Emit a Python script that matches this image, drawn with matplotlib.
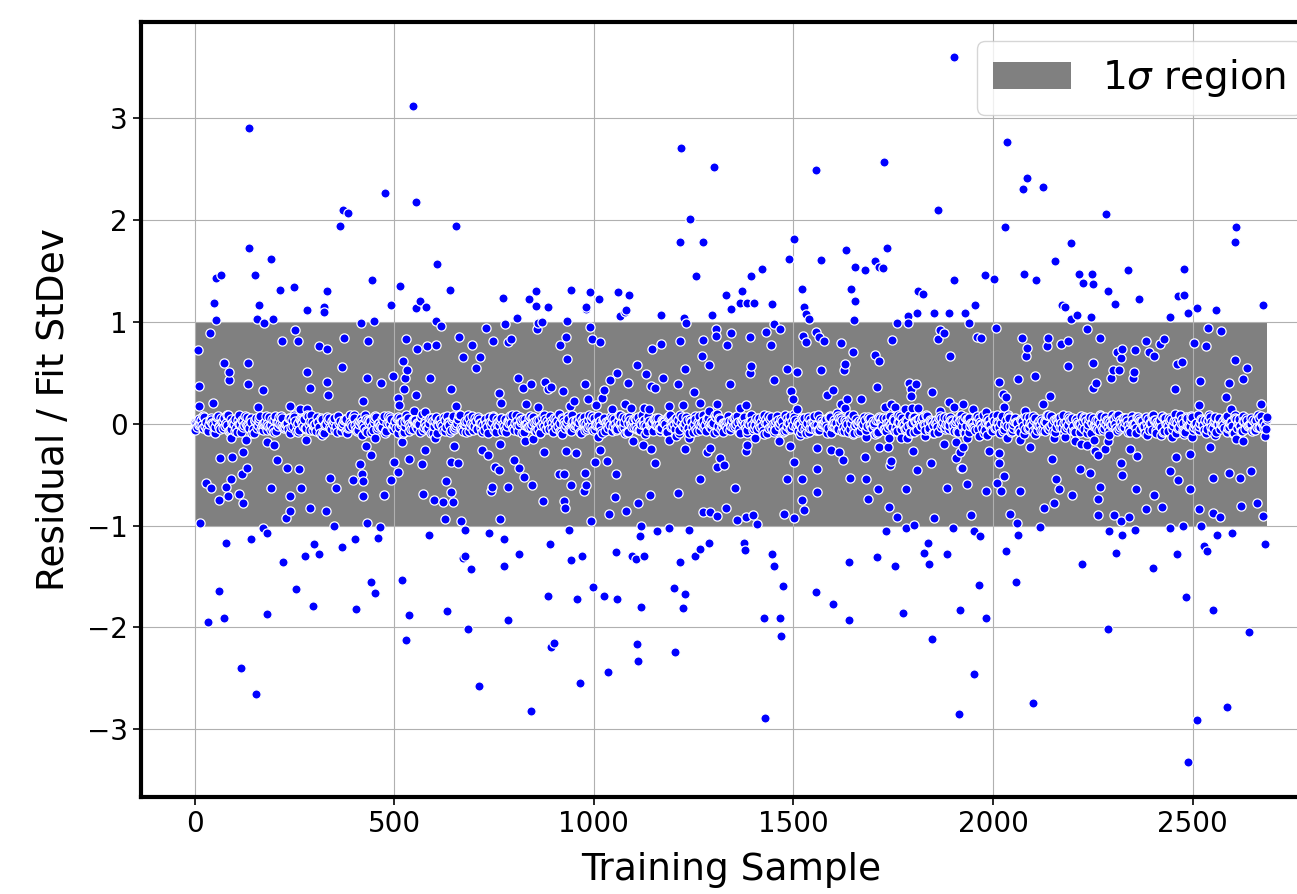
import numpy as np
import matplotlib
matplotlib.use("Agg")
import matplotlib.pyplot as plt

N_SAMPLES = 2688

# points above the 1-sigma band
above_x = [547, 137, 477, 555, 371, 385, 365, 137, 191, 54,
           67, 150, 445, 214, 248, 332, 514, 49, 162, 324,
           493, 565, 555, 580, 282, 53, 155, 197, 324, 449,
           1219, 1302, 1242, 1216, 1273, 655, 607, 639, 1257, 772,
           838, 854, 854, 886, 944, 991, 1013, 981, 1060, 1089,
           1080, 980, 1079, 1065, 1167, 1225, 1296, 605, 807, 933,
           1901, 2035, 1556, 1726, 1863, 2031, 1502, 1489, 1568, 1632,
           1734, 1704, 1714, 1724, 1653, 1678, 1422, 1394, 1521, 1645,
           1654, 1330, 1371, 1365, 1384, 1400, 1344, 1445, 1527, 1812,
           1825, 1901, 1981, 2003, 1955, 1532, 1540, 1651, 1788, 1810,
           1851, 1889, 1930, 2086, 2076, 2126, 2282, 2194, 2609, 2605,
           2155, 2078, 2108, 2215, 2247, 2225, 2251, 2339, 2288, 2305,
           2366, 2478, 2463, 2478, 2173, 2181, 2511, 2559, 2675, 2194,
           2209, 2246, 2444, 2488]
above_y = [3.12, 2.90, 2.27, 2.18, 2.10, 2.07, 1.94, 1.73, 1.62, 1.43,
           1.46, 1.46, 1.41, 1.31, 1.34, 1.30, 1.35, 1.19, 1.17, 1.15,
           1.17, 1.21, 1.14, 1.15, 1.12, 1.02, 1.03, 1.03, 1.10, 1.01,
           2.71, 2.52, 2.01, 1.79, 1.79, 1.94, 1.57, 1.31, 1.45, 1.24,
           1.23, 1.30, 1.16, 1.15, 1.31, 1.29, 1.23, 1.15, 1.29, 1.26,
           1.12, 1.13, 1.10, 1.06, 1.07, 1.04, 1.07, 1.01, 1.04, 1.01,
           3.60, 2.77, 2.49, 2.57, 2.10, 1.93, 1.81, 1.62, 1.61, 1.71,
           1.73, 1.60, 1.54, 1.53, 1.54, 1.51, 1.52, 1.45, 1.32, 1.32,
           1.21, 1.26, 1.30, 1.19, 1.19, 1.19, 1.13, 1.18, 1.15, 1.30,
           1.27, 1.41, 1.46, 1.42, 1.17, 1.08, 1.03, 1.02, 1.06, 1.09,
           1.09, 1.09, 1.09, 2.41, 2.31, 2.33, 2.06, 1.78, 1.93, 1.79,
           1.60, 1.47, 1.41, 1.47, 1.47, 1.38, 1.37, 1.51, 1.30, 1.18,
           1.23, 1.52, 1.25, 1.26, 1.17, 1.15, 1.14, 1.12, 1.17, 1.03,
           1.07, 1.05, 1.05, 1.09]

# points inside the band, positive side
pos_x = [175, 416, 39, 251, 220, 258, 311, 332, 375, 435,
         8, 530, 557, 582, 74, 134, 87, 86, 281, 368,
         332, 290, 334, 10, 134, 172, 521, 533, 528, 496,
         524, 555, 432, 466, 45, 10, 159, 239, 263, 282,
         423, 509, 512, 549, 578,
         1232, 616, 661, 731, 747, 777, 792, 784, 859, 871,
         858, 929, 915, 933, 991, 996, 1016, 605, 671, 716,
         706, 696, 1145, 1169, 1216, 1273, 1307, 1307, 1271, 1288,
         1228, 1210, 1251, 1109, 1131, 1172, 1142, 1153, 1086, 1058,
         1040, 1025, 1020, 810, 823, 843, 877, 884, 893, 922,
         977, 986, 642, 762, 768, 829, 860, 950, 941, 655,
         1006, 1045, 1079, 1094, 1125, 1137, 1188, 1223, 1265, 1288,
         1309, 1309, 590,
         1759, 1788, 1939, 2007, 1344, 1334, 1390, 1444, 1432, 1467,
         1451, 1523, 1531, 1557, 1565, 1577, 1619, 1649, 1703, 1715,
         1746, 1861, 1868, 1877, 1891, 1960, 1970, 1394, 1390, 1341,
         1451, 1484, 1510, 1568, 1628, 1626, 1708, 1790, 1807, 1795,
         1795, 1847, 2015, 1495, 1498, 1508, 1600, 1583, 1634, 1668,
         1619, 1381, 1367, 1609, 1628, 1729, 1744, 1754, 1779, 1796,
         1813, 1866, 1890, 1903, 1924, 1949, 1982, 2033, 2028, 2025,
         2235, 2539, 2570, 2504, 2533, 2072, 2086, 2082, 2063, 2104,
         2138, 2135, 2170, 2187, 2187, 2250, 2268, 2250, 2258, 2296,
         2301, 2315, 2311, 2322, 2321, 2355, 2352, 2350, 2383, 2390,
         2404, 2417, 2428, 2461, 2474, 2455, 2519, 2517, 2590, 2584,
         2605, 2625, 2637, 2670, 2597, 2142, 2124, 2081]
pos_y = [0.99, 0.99, 0.89, 0.92, 0.81, 0.81, 0.76, 0.73, 0.84, 0.81,
         0.72, 0.83, 0.73, 0.76, 0.60, 0.60, 0.51, 0.43, 0.51, 0.56,
         0.41, 0.35, 0.28, 0.37, 0.39, 0.33, 0.62, 0.53, 0.45, 0.47,
         0.34, 0.28, 0.45, 0.40, 0.20, 0.17, 0.16, 0.17, 0.14, 0.14,
         0.22, 0.25, 0.18, 0.13, 0.12,
         0.99, 0.96, 0.85, 0.94, 0.81, 0.98, 0.83, 0.80, 0.99, 1.00,
         0.93, 0.85, 0.77, 0.64, 0.95, 0.83, 0.80, 0.77, 0.66, 0.66,
         0.55, 0.77, 0.73, 0.78, 0.81, 0.82, 0.93, 0.86, 0.67, 0.58,
         0.54, 0.39, 0.31, 0.58, 0.49, 0.45, 0.37, 0.35, 0.40, 0.50,
         0.43, 0.33, 0.25, 0.45, 0.35, 0.39, 0.41, 0.34, 0.36, 0.32,
         0.39, 0.24, 0.34, 0.30, 0.20, 0.19, 0.16, 0.22, 0.17, 0.17,
         0.18, 0.14, 0.19, 0.15, 0.15, 0.14, 0.17, 0.18, 0.20, 0.13,
         0.19, 0.10, 0.45,
         0.99, 0.99, 0.99, 0.94, 0.89, 0.77, 0.85, 0.77, 0.90, 0.93,
         0.98, 0.86, 0.80, 0.90, 0.85, 0.81, 0.79, 0.70, 0.68, 0.62,
         0.82, 0.83, 0.92, 0.89, 0.67, 0.85, 0.84, 0.57, 0.50, 0.39,
         0.43, 0.54, 0.51, 0.53, 0.59, 0.53, 0.36, 0.40, 0.39, 0.34,
         0.27, 0.31, 0.41, 0.32, 0.24, 0.14, 0.33, 0.28, 0.24, 0.24,
         0.19, 0.18, 0.15, 0.11, 0.15, 0.16, 0.19, 0.16, 0.14, 0.15,
         0.15, 0.13, 0.21, 0.16, 0.19, 0.14, 0.12, 0.26, 0.16, 0.29,
         0.93, 0.94, 0.91, 0.79, 0.76, 0.84, 0.74, 0.67, 0.44, 0.47,
         0.84, 0.76, 0.78, 0.81, 0.57, 0.60, 0.84, 0.35, 0.40, 0.45,
         0.53, 0.53, 0.70, 0.73, 0.65, 0.72, 0.51, 0.45, 0.81, 0.70,
         0.67, 0.78, 0.83, 0.59, 0.61, 0.34, 0.42, 0.18, 0.40, 0.26,
         0.63, 0.44, 0.55, 0.19, 0.14, 0.27, 0.19, 0.13]

# points inside the band, negative side
neg_x = [91, 128, 181, 200, 280, 320, 419, 430, 453, 519,
         122, 64, 93, 206, 231, 261, 130, 119, 90, 441,
         413, 419, 396, 423, 499, 509, 492, 538, 570, 578,
         29, 42, 78, 61, 83, 112, 122, 191, 267, 239,
         340, 353, 474, 422, 572, 290, 328, 240, 229, 13,
         349, 432,
         601, 649, 721, 734, 766, 874, 828, 848, 920, 929,
         955, 1016, 1010, 1098, 1122, 1144, 1152, 1189, 1206, 1238,
         1229, 1283, 1292, 1309, 1265, 641, 659, 753, 763, 799,
         812, 824, 845, 784, 746, 742, 912, 924, 944, 979,
         980, 976, 1002, 1032, 1056, 629, 642, 648, 622, 600,
         873, 924, 928, 1054, 1110, 1140, 1211, 1039, 1081, 1273,
         1292, 1309, 627, 666, 766, 994, 1118,
         1464, 1492, 1517, 1559, 1595, 1615, 1623, 1648, 1682, 1714,
         1739, 1737, 1769, 1785, 1830, 1384, 1380, 1404, 1426, 1317,
         1327, 1800, 1876, 1908, 1918, 1925, 1906, 1919, 1935, 1964,
         1989, 1986, 2014, 2016, 2027, 2034, 1502, 1560, 1484, 1521,
         1558, 1522, 1527, 1353, 1330, 1642, 1682, 1678, 1745, 1743,
         1712, 1686, 1781, 1810, 1845, 1884, 1935, 1921, 1982, 2021,
         2010, 1739, 1759, 1803, 1851, 1945, 1359, 1380, 1398, 1409,
         1476, 1502,
         2068, 2092, 2104, 2153, 2180, 2205, 2220, 2254, 2288, 2291,
         2256, 2262, 2281, 2234, 2344, 2361, 2321, 2324, 2386, 2421,
         2448, 2478, 2499, 2458, 2492, 2543, 2608, 2625, 2682, 2557,
         2148, 2218, 2244, 2158, 2166, 2198, 2067, 2127, 2152, 2269,
         2263, 2263, 2304, 2321, 2341, 2357, 2402, 2422, 2383, 2444,
         2463, 2494, 2516, 2551, 2569, 2551, 2590, 2618, 2646, 2621,
         2661, 2676, 2043, 2060]
neg_y = [-0.14, -0.16, -0.18, -0.21, -0.16, -0.11, -0.11, -0.22, -0.14, -0.18,
         -0.28, -0.34, -0.33, -0.36, -0.43, -0.44, -0.43, -0.49, -0.54, -0.31,
         -0.40, -0.49, -0.55, -0.56, -0.38, -0.47, -0.55, -0.35, -0.40, -0.26,
         -0.58, -0.63, -0.62, -0.75, -0.71, -0.69, -0.78, -0.63, -0.63, -0.71,
         -0.53, -0.63, -0.70, -0.71, -0.69, -0.83, -0.86, -0.86, -0.93, -0.97,
         -1.00, -0.97,
         -0.14, -0.22, -0.26, -0.31, -0.20, -0.28, -0.17, -0.15, -0.10, -0.27,
         -0.29, -0.26, -0.13, -0.17, -0.21, -0.25, -0.39, -0.16, -0.12, -0.14,
         -0.25, -0.28, -0.24, -0.42, -0.54, -0.38, -0.39, -0.42, -0.45, -0.36,
         -0.43, -0.52, -0.60, -0.62, -0.62, -0.66, -0.49, -0.49, -0.60, -0.48,
         -0.60, -0.66, -0.38, -0.37, -0.49, -0.56, -0.67, -0.77, -0.77, -0.75,
         -0.76, -0.76, -0.83, -0.72, -0.78, -0.70, -0.68, -0.89, -0.86, -0.87,
         -0.87, -0.91, -0.94, -0.96, -0.94, -0.96, -1.00,
         -0.17, -0.22, -0.11, -0.24, -0.26, -0.28, -0.36, -0.10, -0.13, -0.23,
         -0.14, -0.23, -0.14, -0.14, -0.12, -0.21, -0.27, -0.14, -0.10, -0.34,
         -0.41, -0.27, -0.20, -0.18, -0.28, -0.23, -0.34, -0.43, -0.14, -0.12,
         -0.27, -0.11, -0.29, -0.39, -0.51, -0.14, -0.38, -0.44, -0.54, -0.54,
         -0.67, -0.75, -0.85, -0.63, -0.83, -0.53, -0.54, -0.33, -0.37, -0.41,
         -0.64, -0.74, -0.64, -0.45, -0.39, -0.63, -0.59, -0.43, -0.66, -0.66,
         -0.58, -0.82, -0.92, -0.99, -0.93, -0.90, -0.95, -0.92, -0.90, -0.98,
         -0.89, -0.93,
         -0.16, -0.23, -0.10, -0.14, -0.13, -0.17, -0.20, -0.16, -0.17, -0.11,
         -0.27, -0.31, -0.25, -0.21, -0.25, -0.32, -0.39, -0.50, -0.11, -0.11,
         -0.13, -0.10, -0.13, -0.33, -0.30, -0.23, -0.15, -0.17, -0.12, -0.11,
         -0.35, -0.44, -0.48, -0.54, -0.64, -0.70, -0.66, -0.83, -0.78, -0.62,
         -0.74, -0.90, -0.90, -0.96, -0.92, -0.64, -0.70, -0.82, -0.84, -0.46,
         -0.55, -0.64, -0.84, -0.88, -0.92, -0.53, -0.48, -0.53, -0.46, -0.81,
         -0.78, -0.91, -0.89, -0.97]

# points below the band
below_x = [464, 172, 181, 141, 79, 298, 369, 401, 460, 586,
           276, 312,
           221, 61, 33, 74, 181, 255, 296, 404, 442, 452,
           519, 537, 530, 115, 153,
           676, 737, 776, 938, 889, 1115, 1159, 1187, 1238, 1288,
           1267, 812, 677, 970, 1055, 1095,
           671, 692, 775, 944, 1106, 1125, 1216, 1254, 632, 784,
           684, 886, 959, 997, 1025, 1058, 1117, 1201, 1229, 1223,
           899, 893, 1108, 1111, 1203, 1035, 712, 965, 842,
           1783, 1899, 1951, 1968, 1733, 1836, 1375, 1378, 1445, 1709,
           1828, 1885, 2033,
           1451, 1473, 1425, 1467, 1470, 1429, 1556, 1600, 1638, 1638,
           1755, 1774, 1839, 1848, 1965, 1918, 1983, 1952, 1914,
           2355, 2444, 2476, 2521, 2561, 2599, 2062, 2118, 2291, 2324,
           2528, 2536, 2682, 2307, 2461,
           2057, 2222, 2400, 2483, 2552, 2288, 2640, 2099, 2587, 2511,
           2488]
below_y = [-1.01, -1.02, -1.07, -1.13, -1.17, -1.18, -1.21, -1.13, -1.12, -1.09,
           -1.30, -1.28,
           -1.36, -1.64, -1.95, -1.91, -1.87, -1.62, -1.79, -1.82, -1.55, -1.66,
           -1.53, -1.88, -2.12, -2.40, -2.65,
           -1.04, -1.07, -1.13, -1.04, -1.18, -1.10, -1.05, -1.02, -1.04, -1.17,
           -1.23, -1.28, -1.30, -1.30, -1.26, -1.30,
           -1.32, -1.43, -1.40, -1.34, -1.33, -1.30, -1.36, -1.30, -1.84, -1.93,
           -2.02, -1.69, -1.72, -1.60, -1.69, -1.72, -1.80, -1.61, -1.67, -1.81,
           -2.15, -2.19, -2.16, -2.33, -2.24, -2.44, -2.58, -2.55, -2.82,
           -1.02, -1.02, -1.05, -1.10, -1.05, -1.17, -1.17, -1.24, -1.28, -1.31,
           -1.27, -1.28, -1.25,
           -1.40, -1.59, -1.91, -1.91, -2.08, -2.89, -1.65, -1.77, -1.93, -1.36,
           -1.40, -1.86, -1.38, -2.11, -1.58, -1.83, -1.91, -2.46, -2.85,
           -1.04, -1.02, -1.00, -1.00, -1.09, -1.07, -1.09, -1.01, -1.05, -1.09,
           -1.20, -1.25, -1.18, -1.27, -1.28,
           -1.55, -1.38, -1.42, -1.70, -1.83, -2.02, -2.05, -2.74, -2.78, -2.91,
           -3.32]

# dense near-zero core (residuals in hundredths), three interleaved passes over all samples
core_a = [
    2, -3, 5, -1, 7, -6, 0, 4, -8, 3, -2, 6, -4, 1, 9, -5, 2, -7, 4, 0, -3, 8, -1, 5, -9, 3, -4, 6, -2, 1, -6, 7,
    -1, 4, -7, 2, 8, -3, 0, -5, 6, -2, 3, -8, 5, 1, -4, 9, -6, 2, -1, 7, -3, 4, -9, 0, 6, -5, 3, -2, 8, -7, 1, 5,
    -4, 2, 7, -1, -6, 3, 0, 9, -8, 4, -2, 6, -5, 1, -3, 8, -7, 2, 5, -1, -4, 7, 0, -9, 3, 6, -2, -5, 4, 1, -8, 10,
    3, -5, 1, 6, -2, -9, 4, 0, 7, -3, 2, -6, 8, -1, 5, -4, -7, 3, 9, -2, 0, 6, -5, 1, -8, 4, -3, 7, 2, -6, 5, -1,
    6, -2, -8, 3, 1, -4, 9, -7, 2, 5, -1, -3, 8, 0, -6, 4, -9, 7, -2, 3, -5, 1, 6, -4, 10, -8, 2, -1, 5, -7, 3, 0,
    -3, 7, 1, -6, 4, -2, 8, -5, 0, 3, -9, 6, -1, 2, -7, 5, -4, 9, 1, -3, 6, -8, 0, 4, -2, 7, -6, 3, -10, 5, -1, 2,
    5, -1, -7, 4, 2, -5, 8, -3, 0, 6, -9, 1, -2, 7, -4, 3, -8, 5, 2, -6, 9, -1, 4, -3, 0, 8, -7, 6, -2, 1, -5, 3,
    -2, 6, 0, -8, 3, 5, -4, 1, 9, -6, -1, 4, -3, 7, 2, -9, 5, -5, 0, 8, -2, 3, -7, 6, 1, -4, 10, -3, 2, -8, 4, -1,
    7, -4, 2, -1, -6, 5, 0, 3, -9, 8, -2, 1, -5, 6, 4, -7, -3, 9, 1, -4, 5, -8, 2, 0, -6, 7, -1, 3, -10, 4, 6, -2,
    -5, 1, 8, -3, 4, -7, 2, 6, -1, -4, 9, 0, -8, 3, 5, -2, 7, -6, 1, 4, -9, 2, -3, 8, 0, -5, 6, -1, 3, -7, 5, 2,
    4, -8, -2, 6, 1, -3, 7, -5, 0, 9, -6, 3, -1, 5, -4, 2, -9, 8, 0, -2, 6, -7, 3, 1, -5, 4, -10, 7, -3, 2, 8, -4,
    -1, 5, -6, 3, 9, -2, 0, -8, 4, 7, -4, 1, -3, 6, 2, -7, 5, -1, 8, -5, 3, 0, -9, 6, -2, 4, 1, -6, 7, -3, 2, 9,
    0, -7, 4, -2, 6, 3, -5, 8, -1, -9, 5, 2, -4, 7, -3, 1, 9, -6, 0, 4, -8, 6, -2, 3, -5, 10, 1, -3, 5, -7, 2, -1,
    8, -3, 1, -6, 5, -1, -9, 4, 2, -4, 7, 0, -5, 3, 6, -8, 1, -2, 9, -4, 5, -7, 3, 0, -1, 6, -6, 4, -3, 8, 2, -5,
]
core_b = [
    -6, 3, 0, 8, -2, -5, 4, 1, -9, 7, -3, 2, 6, -1, -7, 5, 0, -4, 9, -8, 3, 1, -2, 6, -5, 4, -1, 8, -6, 2, 0, -3,
    5, -8, 2, 7, -1, -4, 0, 6, -3, 9, -7, 1, 4, -2, -5, 8, 3, -6, 0, 2, -9, 5, -1, 7, -4, 3, 6, -8, 1, -2, 4, -7,
    -3, 0, 9, -5, 2, 6, -1, -7, 4, 3, -6, 8, 0, -2, 5, -9, 1, 7, -4, -1, 6, -3, 2, -8, 9, 0, -5, 4, -2, 1, 7, -6,
    1, -4, 6, -9, 3, 0, 5, -2, -7, 8, -1, 4, -5, 2, 9, -3, 0, -8, 6, 1, -6, 3, 7, -4, -1, 5, -9, 2, 8, -3, 0, 4,
    -7, 5, -2, 1, 9, -6, 3, -1, 4, -8, 0, 6, -3, 7, 2, -5, -9, 1, 5, -2, 8, -4, 0, 3, -7, 6, -1, 2, -5, 9, -3, 4,
    2, -9, 7, 0, -3, 5, -6, 1, 8, -2, 4, -7, 3, -1, 6, 0, -5, 9, -4, 2, -8, 7, 1, -3, 5, -6, 0, 4, -2, 8, -1, -7,
    -1, 6, -4, 3, 0, -8, 9, -2, 5, 1, -6, 7, -3, 4, -9, 2, 0, -5, 8, -1, 3, -7, 6, -4, 1, 9, -2, 5, -8, 0, 3, -6,
    4, -2, 8, -5, 1, 7, -9, 0, 3, -4, 6, -1, 2, -7, 5, 8, -3, 0, -6, 4, 1, -8, 9, -2, -5, 3, 7, -1, 0, -4, 6, -9,
    -8, 1, 3, -6, 9, -2, 0, 5, -4, 7, -1, -3, 8, 2, -7, 4, 0, -5, 6, -9, 1, 3, -2, 7, -6, 5, 0, -1, 4, -8, 2, 6,
    6, -3, -1, 4, -7, 2, 8, 0, -5, 3, -9, 1, 7, -4, 5, -2, 0, 9, -6, 3, -1, 4, -8, 6, 2, -3, 0, 7, -5, 1, -7, 8,
    -2, 7, 5, -8, 0, -4, 3, 6, -1, -9, 2, 4, -6, 8, -3, 1, 5, -7, 0, 9, -2, -4, 6, 1, -8, 3, -5, 2, 7, -1, 4, -6,
    3, -6, 0, 2, -4, 8, -7, 5, 1, -3, 9, -5, -1, 4, 6, -8, 2, 0, -3, 7, -9, 5, 1, -2, 4, -6, 8, -4, 0, 3, -1, 5,
    -4, 9, -3, 6, 2, -1, -8, 4, 0, 7, -5, 3, -2, 1, -6, 8, 4, -9, 2, -3, 6, 0, -7, 5, -1, 3, -4, 9, 1, -8, 6, -2,
    7, 0, -5, -2, 4, -6, 1, 9, -3, 2, -8, 5, 0, -1, 7, -4, 3, -9, 6, 1, -2, 8, -5, 4, 0, -7, 2, -3, 6, 1, -4, 5,
]
core_c = [
    1, -1, 4, -4, 2, -7, 6, 0, -3, 8, -5, 3, -2, 9, -6, 1, 5, -8, 0, 4, -1, 7, -4, 2, -9, 6, 3, -5, 0, 8, -2, -6,
    -5, 8, -2, 0, 6, -3, 1, -9, 4, 7, -1, -6, 3, 5, -4, 0, 9, -2, -7, 2, 6, -8, 1, 4, -3, 0, -6, 7, 3, -1, 5, -9,
    9, -2, 6, -7, 0, 3, -4, 5, 1, -8, 2, 7, -3, -1, 4, -6, 8, 0, -5, 3, -9, 6, 2, -2, 5, -7, 1, 4, -4, 0, 7, -3,
    -2, 5, -9, 3, 7, -1, 0, -6, 4, 2, -8, 6, -3, 1, 9, -5, 0, 3, -7, 8, -2, -4, 5, 1, -6, 0, 4, -1, 7, -8, 2, 6,
    0, -6, 3, 8, -4, 1, -2, 7, -9, 5, 0, -3, 6, 2, -7, 4, -1, 9, -5, 0, 3, -8, 6, -2, 1, 5, -4, 8, -6, 2, -1, 4,
    -8, 4, 1, -5, 9, -3, 6, -1, 0, -7, 5, 2, -4, 8, -2, -6, 3, 0, 7, -9, 1, 4, -3, 6, -5, 2, 9, -1, -7, 3, 0, 5,
    6, -1, -4, 2, -8, 7, 0, 3, -5, 4, 9, -2, 1, -6, 5, -3, 8, -7, 0, 2, -4, 6, -1, 3, -9, 7, 4, -5, 1, -2, 8, 0,
    -3, 7, 2, -9, 4, 0, -6, 8, -1, 3, -5, 6, -2, 9, 1, -4, 7, -8, 3, 0, 5, -3, -6, 2, 8, -1, 4, -7, 0, 6, -5, 1,
    5, -4, 8, -1, -6, 3, 0, -2, 7, -9, 4, 1, -5, 6, -3, 2, -8, 5, 9, -1, 0, -7, 3, 4, -2, 6, -4, 1, -9, 7, 2, -5,
    -7, 2, 0, 6, -3, 9, -5, 1, 4, -2, -8, 7, 3, -6, 0, 5, -1, 8, -4, 2, -9, 1, 6, -3, 7, 0, -5, 4, -1, 3, -8, 9,
    4, -9, 5, -2, 1, -6, 8, 2, -4, 0, 6, -1, -7, 3, 9, -3, 1, -5, 4, 7, -8, 0, 2, -6, 5, -2, 8, -4, 1, -7, 6, 0,
    -1, 3, -7, 9, -5, 0, 4, -3, 6, 1, -9, 2, 8, -6, -2, 5, 0, -8, 3, 6, -4, 7, 1, -1, -5, 9, -3, 2, 4, -7, 0, 5,
    8, -5, 2, -3, 6, -8, 1, 0, -4, 7, 3, -2, -9, 5, 1, -6, 4, 2, -1, 8, -7, 0, 6, -3, 3, -9, 5, 1, -6, 7, -2, 4,
    -6, 0, 9, 1, -2, 4, -5, 7, -8, 3, 0, 6, -1, -4, 8, -3, 2, -9, 5, 1, -7, 3, 6, -2, 0, 4, -6, 9, -3, 2, -1, 7,
]

assert len(above_x) == len(above_y)
assert len(pos_x) == len(pos_y)
assert len(neg_x) == len(neg_y)
assert len(below_x) == len(below_y)

core_sets = [(core_a, 0), (core_b, 2), (core_c, 4)]
core_x_parts, core_y_parts = [], []
for vals, off in core_sets:
    core_x_parts.append(np.linspace(off, N_SAMPLES - 5 + off, len(vals)))
    core_y_parts.append(np.array(vals) / 100.0)

xs = np.concatenate([above_x, pos_x, neg_x, below_x] + core_x_parts).astype(float)
ys = np.concatenate([above_y, pos_y, neg_y, below_y] + core_y_parts).astype(float)
order = np.argsort(xs, kind="stable")
xs, ys = xs[order], ys[order]

fig = plt.figure(figsize=(12.97, 8.94), dpi=100)
ax = fig.add_axes([0.1087, 0.1085, 0.9098, 0.8669])

ax.fill_between([0, N_SAMPLES - 1], [-1, -1], [1, 1], color="gray",
                label=r"1$\sigma$ region", zorder=1, linewidth=0)
ax.scatter(xs, ys, s=44, c="blue", edgecolors="white", linewidths=0.9, zorder=2)

ax.grid(True, color="#b0b0b0", linewidth=0.8)
for gl in ax.get_xgridlines() + ax.get_ygridlines():
    gl.set_zorder(1.5)

ax.set_xlabel("Training Sample", fontsize=27, labelpad=10)
ax.set_ylabel("Residual / Fit StDev", fontsize=27, labelpad=11)
ax.tick_params(axis="both", labelsize=20, width=1.2, length=6)
ax.set_xticks([0, 500, 1000, 1500, 2000, 2500])
for sp in ax.spines.values():
    sp.set_linewidth(3)

ax.legend(loc="upper right", fontsize=28)

fig.savefig("out.png", dpi=100)
